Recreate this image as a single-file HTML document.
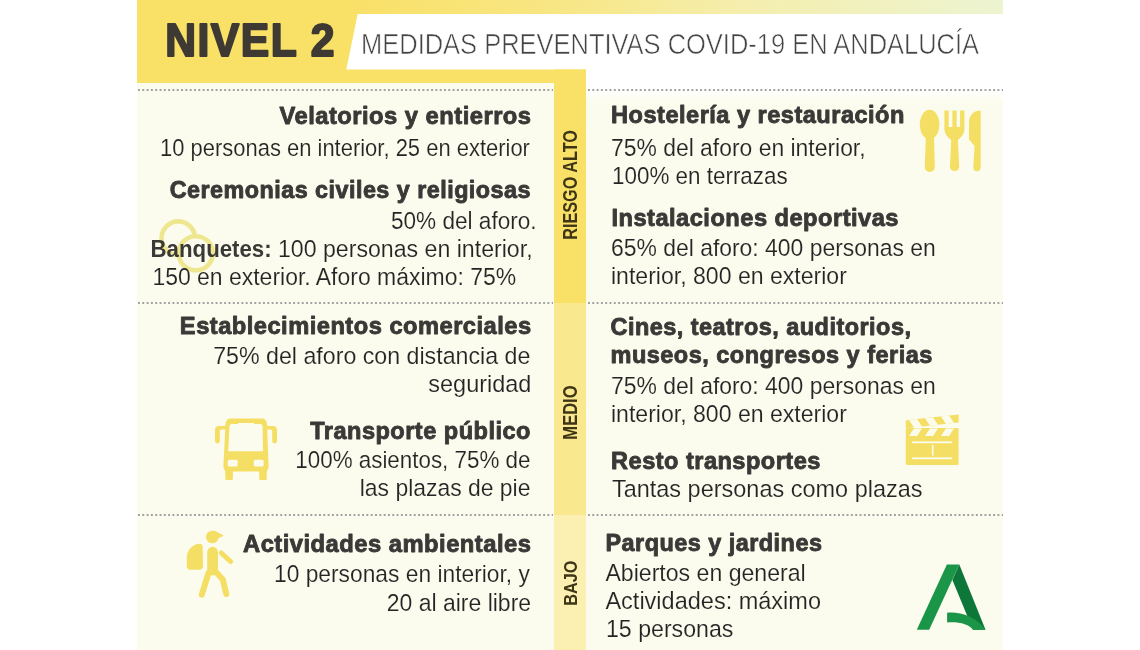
<!DOCTYPE html>
<html lang="es">
<head>
<meta charset="utf-8">
<title>Nivel 2 - Medidas preventivas COVID-19 en Andalucía</title>
<style>
html,body{margin:0;padding:0;background:#ffffff;}
body{width:1140px;height:650px;overflow:hidden;font-family:"Liberation Sans",sans-serif;}
svg{display:block;font-family:"Liberation Sans",sans-serif;filter:blur(0.45px);}
</style>
</head>
<body>
<svg width="1140" height="650" viewBox="0 0 1140 650">
<defs>
<linearGradient id="topg" x1="0" y1="0" x2="1" y2="0">
<stop offset="0" stop-color="#f9e067"/>
<stop offset="0.3" stop-color="#f8e682"/>
<stop offset="0.6" stop-color="#f5eead"/>
<stop offset="1" stop-color="#ecf4d0"/>
</linearGradient>
<linearGradient id="fadeR" x1="0" y1="0" x2="0" y2="1">
<stop offset="0" stop-color="#ffffff"/>
<stop offset="1" stop-color="#fcfcee"/>
</linearGradient>
</defs>
<!-- backgrounds -->
<rect x="137" y="0" width="866" height="650" fill="#fcfcee"/>

<rect x="586" y="14" width="417" height="76" fill="#ffffff"/>
<rect x="586" y="90" width="417" height="12" fill="url(#fadeR)"/>
<rect x="137" y="0" width="449" height="83" fill="#f9e067"/>
<rect x="350" y="0" width="653" height="14" fill="url(#topg)"/>
<polygon points="357.7,14 1003,14 1003,69.5 346.3,69.5" fill="#ffffff"/>
<!-- vertical risk bar -->
<rect x="554" y="69.5" width="32" height="233.5" fill="#f9e067"/>
<rect x="554" y="303" width="32" height="212" fill="#fae88e"/>
<rect x="554" y="515" width="32" height="135" fill="#fbf0b2"/>
<!-- dotted separators -->
<g stroke="#a0a0a0" stroke-width="1.8" stroke-dasharray="1.9 2.41" fill="none">
<path d="M138 90H553"/><path d="M588 90H1003"/>
<path d="M138 303H553"/><path d="M588 303H1003"/>
<path d="M138 515H553"/><path d="M588 515H1003"/>
</g>
<!-- rings -->
<g fill="none" stroke="#efe78f" stroke-width="4.6">
<circle cx="178.3" cy="238.2" r="16.8"/>
<circle cx="195.8" cy="253.3" r="17.1" fill="#fcfcee"/>
</g>
<!-- cutlery -->
<g fill="#f5de64">
<ellipse cx="929.6" cy="124.6" rx="9.8" ry="14.8"/>
<path d="M925.9 134 H933.9 L934.8 167 A5 5 0 0 1 924.8 167 Z"/>
<path d="M944.4 110.5 H948.7 V127 H952.4 V110.5 H956.7 V127 H960.1 V110.5 H964.4 V129 C964.4 135 960 138 957.9 140 L959.2 167 A4.7 4.7 0 0 1 949.9 167 L951.2 140 C949 138 944.4 135 944.4 129 Z"/>
<path d="M980.7 110.5 V167.5 A3.7 3.7 0 0 1 973.3 167.5 L974.5 146 L969 139.5 V122 C969 115 974 110.5 980.7 110.5 Z"/>
</g>
<!-- bus -->
<g fill="#f5de64">
<path d="M231 418.6 H261.5 Q266.5 418.6 267 424 L268.6 466 Q268.6 471.5 264 471.5 H228 Q223.4 471.5 223.4 466 L225.5 424 Q226 418.6 231 418.6 Z"/>
<rect x="225.3" y="468" width="7.6" height="12" rx="1.5"/>
<rect x="259.2" y="468" width="7.6" height="12" rx="1.5"/>
<path d="M226 426 H219 Q215 426 215 430 V441 Q215 443.4 217.4 443.4 Q219.8 443.4 219.8 441 V431 Q219.8 429.5 221.3 429.5 H226 Z"/>
<path d="M266 426 H273 Q277 426 277 430 V441 Q277 443.4 274.6 443.4 Q272.2 443.4 272.2 441 V431 Q272.2 429.5 270.7 429.5 H266 Z"/>
</g>
<g fill="#fcfcee">
<path d="M232 424 H238 V423 H254 V424 H260 Q262.5 424 262.6 427 L263 451.2 H228.2 L229.4 427 Q229.5 424 232 424 Z"/>
<rect x="227.8" y="459.8" width="9.8" height="6.8" rx="1.5"/>
<rect x="253.8" y="459.8" width="9.8" height="6.8" rx="1.5"/>
</g>
<!-- hiker -->
<g fill="#f5de64" stroke="#f5de64" stroke-linecap="round" stroke-linejoin="round">
<circle cx="212.3" cy="537" r="6.3" stroke="none"/>
<path d="M214 531 L223 535.6 L216 539 Z" stroke-width="1"/>
<path d="M193 546 Q199 542 202.5 545 L203.1 566 Q203 569.7 199 569.7 H190.5 Q186.8 569.7 186.8 566 V556 Q188 549 193 546 Z" stroke="none"/>
<path d="M212.6 552.2 V570" stroke-width="10.8" fill="none"/>
<path d="M221.3 553 L230.6 561.5" stroke-width="5" fill="none"/>
<path d="M208.5 573 L201.8 594.6" stroke-width="6" fill="none"/>
<path d="M215.5 571.5 L222.8 579.5 L226.3 594" stroke-width="6" fill="none"/>
</g>
<!-- clapperboard -->
<g>
<rect x="905.8" y="428" width="52.8" height="37" rx="1.5" fill="#f5de64"/>
<polygon points="905.8,420.3 958.6,414.6 958.6,422.6 905.8,428.3" fill="#f5de64"/>
<g fill="#fcfcee">
<polygon points="909,420.0 917,419.1 922,426.6 914,427.4"/>
<polygon points="914,428.6 922,428.6 917,436 909,436"/>
<polygon points="925,418.2 933,417.4 938,424.8 930,425.7"/>
<polygon points="930,428.6 938,428.6 933,436 925,436"/>
<polygon points="941,416.5 949,415.6 954,423.1 946,424.0"/>
<polygon points="946,428.6 954,428.6 949,436 941,436"/>
<rect x="912.2" y="441.4" width="40" height="1.8"/>
<rect x="912.2" y="457.4" width="40" height="1.8"/>
<rect x="931.9" y="445" width="1.6" height="10.6"/>
</g>
</g>
<!-- Junta de Andalucia logo -->
<g>
<polygon points="946.9,564.4 959.3,564.4 929.2,629.8 916.8,629.8" fill="#1b9548"/>
<polygon points="959.3,564.4 985.5,629.8 973,629.8 952.4,580" fill="#0d773a"/>
<path d="M947.1 612.8 C960 611.5 975.7 616.5 985.5 629.8 L973 629.8 C969 624.3 960 621.7 947.1 622.4 Z" fill="#1b9548"/>
</g>

<text transform="translate(165.13 56.3) scale(0.9373 1)" font-size="45.51" font-weight="bold" letter-spacing="1.6" fill="#3e3a33" stroke="#3e3a33" stroke-width="2.0" stroke-linejoin="round">NIVEL 2</text>
<text transform="translate(361.06 54.3) scale(0.8455 1)" font-size="30.14" fill="#444444" stroke="#ffffff" stroke-width="0.6">MEDIDAS PREVENTIVAS COVID-19 EN ANDALUCÍA</text>
<text transform="translate(279.43 123.55) scale(0.9588 1)" font-size="24.78" font-weight="bold" letter-spacing="0.5" fill="#3a3937" stroke="#3a3937" stroke-width="0.9" stroke-linejoin="round">Velatorios y entierros</text>
<text transform="translate(160.02 156.07) scale(0.9107 1)" font-size="24.13" fill="#242424" stroke="#fcfcee" stroke-width="0.15">10 personas en interior, 25 en exterior</text>
<text transform="translate(169.68 197.55) scale(0.9427 1)" font-size="24.78" font-weight="bold" letter-spacing="0.5" fill="#3a3937" stroke="#3a3937" stroke-width="0.9" stroke-linejoin="round">Ceremonias civiles y religiosas</text>
<text transform="translate(390.93 229.07) scale(0.9368 1)" font-size="24.13" fill="#242424" stroke="#fcfcee" stroke-width="0.15">50% del aforo.</text>
<text transform="translate(150.57 257.0) scale(0.9299 1)" font-size="23.91" font-weight="bold" fill="#3a3937">Banquetes:</text>
<text transform="translate(277.97 257.07) scale(0.9593 1)" font-size="24.13" fill="#242424" stroke="#fcfcee" stroke-width="0.15">100 personas en interior,</text>
<text transform="translate(152.38 285.38) scale(0.9520 1)" font-size="24.13" fill="#242424" stroke="#fcfcee" stroke-width="0.15">150 en exterior. Aforo máximo: 75%</text>
<text transform="translate(179.87 334.25) scale(0.9561 1)" font-size="24.78" font-weight="bold" letter-spacing="0.5" fill="#3a3937" stroke="#3a3937" stroke-width="0.9" stroke-linejoin="round">Establecimientos comerciales</text>
<text transform="translate(213.17 364.07) scale(0.9617 1)" font-size="24.13" fill="#242424" stroke="#fcfcee" stroke-width="0.15">75% del aforo con distancia de</text>
<text transform="translate(428.33 392.38) scale(0.9733 1)" font-size="24.13" fill="#242424" stroke="#fcfcee" stroke-width="0.15">seguridad</text>
<text transform="translate(310.23 438.75) scale(0.9514 1)" font-size="24.78" font-weight="bold" letter-spacing="0.5" fill="#3a3937" stroke="#3a3937" stroke-width="0.9" stroke-linejoin="round">Transporte público</text>
<text transform="translate(295.30 468.07) scale(0.9277 1)" font-size="24.13" fill="#242424" stroke="#fcfcee" stroke-width="0.15">100% asientos, 75% de</text>
<text transform="translate(359.78 496.07) scale(0.9498 1)" font-size="24.13" fill="#242424" stroke="#fcfcee" stroke-width="0.15">las plazas de pie</text>
<text transform="translate(243.03 552.25) scale(0.9598 1)" font-size="24.78" font-weight="bold" letter-spacing="0.5" fill="#3a3937" stroke="#3a3937" stroke-width="0.9" stroke-linejoin="round">Actividades ambientales</text>
<text transform="translate(273.98 582.28) scale(0.9446 1)" font-size="24.13" fill="#242424" stroke="#fcfcee" stroke-width="0.15">10 personas en interior, y</text>
<text transform="translate(386.78 610.68) scale(0.9529 1)" font-size="24.13" fill="#242424" stroke="#fcfcee" stroke-width="0.15">20 al aire libre</text>
<text transform="translate(611.08 123.05) scale(0.9524 1)" font-size="24.78" font-weight="bold" letter-spacing="0.5" fill="#3a3937" stroke="#3a3937" stroke-width="0.9" stroke-linejoin="round">Hostelería y restauración</text>
<text transform="translate(610.98 155.67) scale(0.9496 1)" font-size="24.13" fill="#242424" stroke="#fcfcee" stroke-width="0.15">75% del aforo en interior,</text>
<text transform="translate(612.00 183.67) scale(0.9299 1)" font-size="24.13" fill="#242424" stroke="#fcfcee" stroke-width="0.15">100% en terrazas</text>
<text transform="translate(611.48 225.55) scale(0.9544 1)" font-size="24.78" font-weight="bold" letter-spacing="0.5" fill="#3a3937" stroke="#3a3937" stroke-width="0.9" stroke-linejoin="round">Instalaciones deportivas</text>
<text transform="translate(610.98 255.67) scale(0.9504 1)" font-size="24.13" fill="#242424" stroke="#fcfcee" stroke-width="0.15">65% del aforo: 400 personas en</text>
<text transform="translate(610.97 283.68) scale(0.9562 1)" font-size="24.13" fill="#242424" stroke="#fcfcee" stroke-width="0.15">interior, 800 en exterior</text>
<text transform="translate(610.48 334.55) scale(0.9473 1)" font-size="24.78" font-weight="bold" letter-spacing="0.5" fill="#3a3937" stroke="#3a3937" stroke-width="0.9" stroke-linejoin="round">Cines, teatros, auditorios,</text>
<text transform="translate(610.48 363.25) scale(0.9501 1)" font-size="24.78" font-weight="bold" letter-spacing="0.5" fill="#3a3937" stroke="#3a3937" stroke-width="0.9" stroke-linejoin="round">museos, congresos y ferias</text>
<text transform="translate(610.98 394.07) scale(0.9504 1)" font-size="24.13" fill="#242424" stroke="#fcfcee" stroke-width="0.15">75% del aforo: 400 personas en</text>
<text transform="translate(610.97 422.27) scale(0.9562 1)" font-size="24.13" fill="#242424" stroke="#fcfcee" stroke-width="0.15">interior, 800 en exterior</text>
<text transform="translate(611.08 468.65) scale(0.9513 1)" font-size="24.78" font-weight="bold" letter-spacing="0.5" fill="#3a3937" stroke="#3a3937" stroke-width="0.9" stroke-linejoin="round">Resto transportes</text>
<text transform="translate(611.93 496.57) scale(0.9735 1)" font-size="24.13" fill="#242424" stroke="#fcfcee" stroke-width="0.15">Tantas personas como plazas</text>
<text transform="translate(605.48 551.15) scale(0.9462 1)" font-size="24.78" font-weight="bold" letter-spacing="0.5" fill="#3a3937" stroke="#3a3937" stroke-width="0.9" stroke-linejoin="round">Parques y jardines</text>
<text transform="translate(605.43 581.18) scale(0.9576 1)" font-size="24.13" fill="#242424" stroke="#fcfcee" stroke-width="0.15">Abiertos en general</text>
<text transform="translate(605.43 609.18) scale(0.9748 1)" font-size="24.13" fill="#242424" stroke="#fcfcee" stroke-width="0.15">Actividades: máximo</text>
<text transform="translate(605.97 637.28) scale(0.9600 1)" font-size="24.13" fill="#242424" stroke="#fcfcee" stroke-width="0.15">15 personas</text>
<text transform="translate(577 239.84) rotate(-90) scale(0.8364 1)" font-size="19.42" font-weight="bold" fill="#3d3515">RIESGO ALTO</text>
<text transform="translate(576.7 439.65) rotate(-90) scale(0.8526 1)" font-size="19.42" font-weight="bold" fill="#3d3515">MEDIO</text>
<text transform="translate(576.5 605.87) rotate(-90) scale(0.8665 1)" font-size="18.84" font-weight="bold" fill="#3d3515">BAJO</text>
</svg>
</body>
</html>
